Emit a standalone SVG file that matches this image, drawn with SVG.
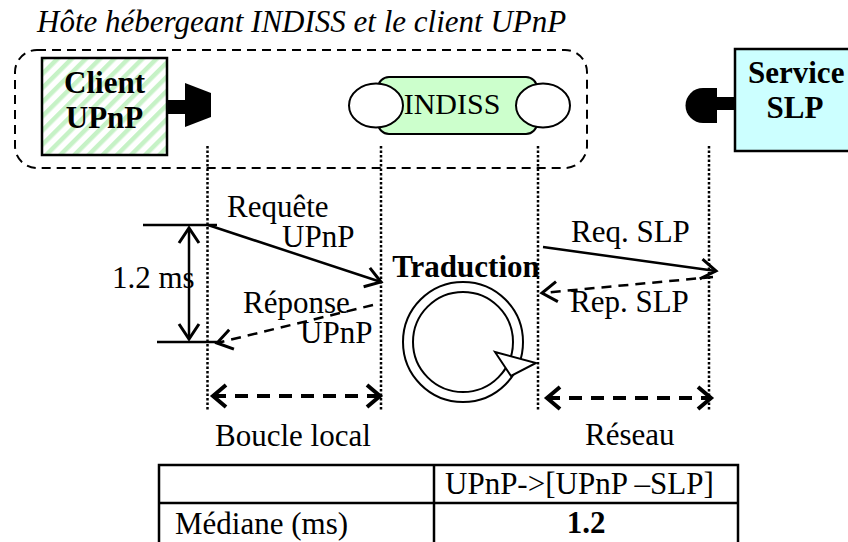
<svg xmlns="http://www.w3.org/2000/svg" width="848" height="542" viewBox="0 0 848 542" font-family="'Liberation Serif', 'Times New Roman', serif">
<defs>
  <pattern id="hatch" patternUnits="userSpaceOnUse" width="10" height="10" patternTransform="rotate(45)">
    <rect width="10" height="10" fill="#ffffff"/>
    <rect width="4.5" height="10" fill="#c6f2c6"/>
  </pattern>
  <marker id="ah" markerUnits="userSpaceOnUse" viewBox="-20 -15 25 30" markerWidth="25" markerHeight="30" refX="0" refY="0" orient="auto-start-reverse" overflow="visible">
    <path d="M-15,-10 L0,0 L-15,10" fill="none" stroke="#000" stroke-width="3" stroke-dasharray="none"/>
  </marker>
  <marker id="ahb" markerUnits="userSpaceOnUse" viewBox="-20 -15 25 30" markerWidth="25" markerHeight="30" refX="0" refY="0" orient="auto-start-reverse" overflow="visible">
    <path d="M-13,-11 L0,0 L-13,11" fill="none" stroke="#000" stroke-width="4" stroke-dasharray="none"/>
  </marker>
</defs>
<style>
  text{font-family:"Liberation Serif","Times New Roman",serif;fill:#000}
  .t{font-size:31px}
  .b{font-weight:bold}
  .life{stroke:#000;stroke-width:2.5;stroke-dasharray:2.5 2;fill:none}
  .msg{stroke:#000;stroke-width:2.5;fill:none}
  .dash{stroke-dasharray:10 7}
  .span{stroke:#000;stroke-width:4;stroke-dasharray:13 9;fill:none}
  .box{stroke:#000;stroke-width:2.5}
  .tbl{stroke:#000;stroke-width:2.5;fill:none}
</style>

<text x="37" y="32" class="t" font-style="italic">Hôte hébergeant INDISS et le client UPnP</text>

<g id="host">
  <rect x="15" y="50" width="572" height="118" rx="22" ry="22" fill="none" stroke="#000" stroke-width="2" stroke-dasharray="9 6"/>
</g>

<g id="client">
  <rect x="42" y="58" width="125" height="97" fill="url(#hatch)" class="box"/>
  <text x="104.5" y="93" class="t b" text-anchor="middle">Client</text>
  <text x="104.5" y="128" class="t b" text-anchor="middle">UPnP</text>
  <rect x="167" y="100" width="19" height="14" fill="#000"/>
  <path d="M185,83 L211,93 L211,117 L185,127 Z" fill="#000"/>
</g>

<g id="indiss">
  <rect x="378" y="77" width="159" height="57" rx="11" ry="11" fill="#ccffcc" stroke="#000" stroke-width="2"/>
  <ellipse cx="376" cy="105.5" rx="27" ry="22" fill="#fff" stroke="#000" stroke-width="2"/>
  <ellipse cx="543" cy="105.5" rx="27" ry="22" fill="#fff" stroke="#000" stroke-width="2"/>
  <text x="452" y="114" font-size="30" text-anchor="middle">INDISS</text>
</g>

<g id="service">
  <rect x="735" y="49" width="125" height="102" fill="#ccffff" class="box"/>
  <text x="748" y="83" class="t b">Service</text>
  <text x="795" y="118" class="t b" text-anchor="middle">SLP</text>
  <rect x="716" y="97" width="20" height="13" fill="#000"/>
  <path d="M717,88 L703,88 A17.5,17.5 0 0 0 703,123 L717,123 Z" fill="#000"/>
</g>

<g id="traduction">
  <text x="466" y="277" class="t b" text-anchor="middle">Traduction</text>
  <circle cx="463" cy="342" r="55" fill="none" stroke="#000" stroke-width="12"/>
  <circle cx="463" cy="342" r="55" fill="none" stroke="#fff" stroke-width="8"/>
  <path d="M495,352 L536,363 L511,376 Z" fill="#fff" stroke="#000" stroke-width="2" stroke-linejoin="miter"/>
</g>

<g id="connectors">
  <line x1="207.5" y1="146" x2="207.5" y2="410" class="life"/>
  <line x1="381" y1="146" x2="381" y2="410" class="life"/>
  <line x1="538" y1="146" x2="538" y2="410" class="life"/>
  <line x1="709" y1="146" x2="709" y2="410" class="life"/>

  <line x1="143" y1="225" x2="217" y2="225" class="msg"/>
  <line x1="157" y1="342" x2="217" y2="342" class="msg"/>
  <line x1="189" y1="228" x2="189" y2="339" class="msg" marker-start="url(#ah)" marker-end="url(#ah)"/>

  <line x1="208" y1="225" x2="381" y2="282" class="msg" marker-end="url(#ah)"/>
  <line x1="373" y1="305" x2="217" y2="343" class="msg dash" marker-end="url(#ah)"/>
  <line x1="543" y1="247" x2="716" y2="271" class="msg" marker-end="url(#ah)"/>
  <line x1="713" y1="277" x2="542" y2="293" class="msg dash" marker-end="url(#ah)"/>

  <line x1="213" y1="396" x2="380" y2="396" class="span" marker-start="url(#ahb)" marker-end="url(#ahb)"/>
  <line x1="547" y1="398" x2="711" y2="398" class="span" marker-start="url(#ahb)" marker-end="url(#ahb)"/>
</g>

<g id="labels">
  <text x="112" y="288" class="t">1.2 ms</text>
  <text x="227" y="217" class="t">Requête</text>
  <text x="282" y="247" class="t">UPnP</text>
  <text x="243" y="313" class="t">Réponse</text>
  <text x="300" y="343" class="t">UPnP</text>
  <text x="571" y="242" class="t">Req. SLP</text>
  <text x="570" y="312" class="t">Rep. SLP</text>
  <text x="215" y="446" class="t">Boucle local</text>
  <text x="585" y="445" class="t">Réseau</text>
</g>

<g id="table">
  <rect x="159" y="465" width="579" height="95" class="tbl"/>
  <line x1="159" y1="503" x2="738" y2="503" class="tbl"/>
  <line x1="434" y1="465" x2="434" y2="542" class="tbl"/>
  <text x="445" y="494" class="t">UPnP-&gt;[UPnP –SLP]</text>
  <text x="175" y="534" class="t">Médiane (ms)</text>
  <text x="586" y="533" class="t b" text-anchor="middle">1.2</text>
</g>
</svg>
